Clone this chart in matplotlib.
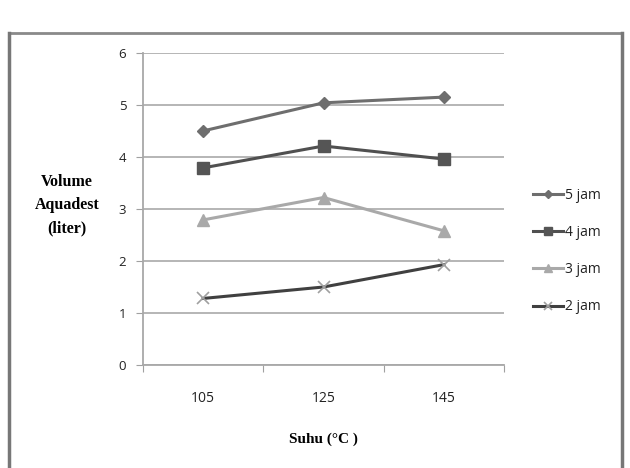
import matplotlib.pyplot as plt
from matplotlib.lines import Line2D

# data
suhu = ["105", "125", "145"]
jam_5 = [4.50, 5.04, 5.15]
jam_4 = [3.79, 4.21, 3.96]
jam_3 = [2.79, 3.22, 2.58]
jam_2 = [1.28, 1.50, 1.93]

fig = plt.figure(figsize=(6.3, 4.68), dpi=100)
ax = fig.add_axes([0.227, 0.22, 0.573, 0.667])

x = range(len(suhu))
ax.plot(x, jam_5, color="#6e6e6e", lw=2.2, marker="D", ms=6, mfc="#6e6e6e", mec="#6e6e6e", label="5 jam")
ax.plot(x, jam_4, color="#505050", lw=2.2, marker="s", ms=8, mfc="#555555", mec="#555555", label="4 jam")
ax.plot(x, jam_3, color="#a9a9a9", lw=2.2, marker="^", ms=8, mfc="#a9a9a9", mec="#a9a9a9", label="3 jam")
ax.plot(x, jam_2, color="#404040", lw=2.2, marker="x", ms=8, mew=1.2, mec="#a0a0a0", label="2 jam")

ax.set_xlim(-0.5, 2.5)
ax.set_ylim(0, 6)
ax.set_yticks(range(7))
ax.set_xticks([-0.5, 0.5, 1.5, 2.5], minor=False)
ax.set_xticklabels([])
ax.set_xticks(list(x), minor=True)
ax.set_xticklabels(suhu, minor=True, fontsize=10, family="Open Sans", color="#222222")
ax.tick_params(axis="x", which="minor", length=0, pad=19)
ax.tick_params(axis="x", which="major", length=5, color="#a0a0a0", direction="out")
ax.tick_params(axis="y", length=5, color="#a0a0a0", labelsize=9.5, pad=7, labelcolor="#222222")
for t in ax.get_yticklabels():
    t.set_family("Open Sans")

ax.yaxis.grid(True, color="#b0b0b0", lw=1.3)
ax.set_axisbelow(True)
for s in ["top", "right"]:
    ax.spines[s].set_visible(False)
ax.spines["left"].set_color("#a8a8a8")
ax.spines["bottom"].set_color("#a8a8a8")
ax.spines["left"].set_linewidth(1.3)
ax.spines["bottom"].set_linewidth(1.3)

ax.set_xlabel("Suhu (\u00b0C )", family="Liberation Serif", fontweight="bold", fontsize=11, labelpad=19)
fig.text(0.106, 0.561, "Volume\nAquadest\n(liter)", ha="center", va="center",
         family="Liberation Serif", fontweight="bold", fontsize=11.5, linespacing=1.6)

leg = ax.legend(loc="center left", bbox_to_anchor=(1.045, 0.365), frameon=False,
                prop={"family": "Open Sans", "size": 10}, handlelength=2.2,
                labelspacing=1.6, handletextpad=0.1, markerscale=0.7)
for t in leg.get_texts():
    t.set_color("#222222")

# outer frame
fig.add_artist(Line2D([0.015, 0.988], [0.929, 0.929], transform=fig.transFigure, color="#8a8a8a", lw=2))
fig.add_artist(Line2D([0.015, 0.015], [0.0, 0.929], transform=fig.transFigure, color="#777777", lw=2.5))
fig.add_artist(Line2D([0.987, 0.987], [0.0, 0.929], transform=fig.transFigure, color="#777777", lw=2.5))

plt.savefig("out.png", dpi=100)
